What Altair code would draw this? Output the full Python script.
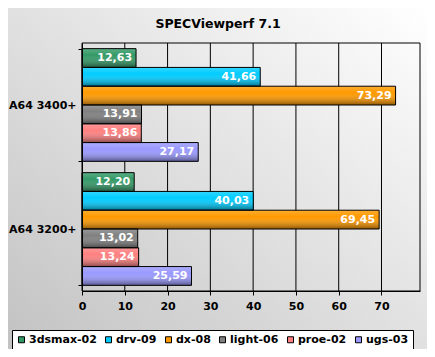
import altair as alt
import pandas as pd

categories = ["A64 3400+", "A64 3200+"]
series = ["3dsmax-02", "drv-09", "dx-08", "light-06", "proe-02", "ugs-03"]
values_3400 = [12.63, 41.66, 73.29, 13.91, 13.86, 27.17]
values_3200 = [12.20, 40.03, 69.45, 13.02, 13.24, 25.59]
colors = ["#339966", "#00ccff", "#ff9900", "#808080", "#ff8080", "#9999ff"]
x_ticks = [0, 10, 20, 30, 40, 50, 60, 70]
grid_ticks = [10, 20, 30, 40, 50, 60, 70]

rows = []
for cat, vals in zip(categories, [values_3400, values_3200]):
    for s, v in zip(series, vals):
        rows.append({"cat": cat, "series": s, "value": v,
                     "label": f"{v:.2f}".replace(".", ",")})
df = pd.DataFrame(rows)

W, H = 338, 248
PL, PT, PR, PB = 74, 35, 7, 58
FONT = "DejaVu Sans"

bg = alt.Chart(pd.DataFrame({"a": [0]})).mark_rect(
    fill=alt.Gradient(gradient="linear", x1=0, y1=1, x2=1, y2=0,
                      stops=[alt.GradientStop(offset=0, color="#c2c2c2"),
                             alt.GradientStop(offset=1, color="#ffffff")])
).encode(x=alt.value(-PL), x2=alt.value(W + PR), y=alt.value(-PT), y2=alt.value(H + PB))

grid = alt.Chart(pd.DataFrame({"t": grid_ticks})).mark_rule(color="black", strokeWidth=1).encode(
    x=alt.X("t:Q", scale=alt.Scale(domain=[0, 79], nice=False, zero=True))
)

frame = alt.Chart(pd.DataFrame({"a": [0]})).mark_rect(filled=False, stroke="black", strokeWidth=1).encode(
    x=alt.value(0), x2=alt.value(W), y=alt.value(0), y2=alt.value(H)
)

xenc = alt.X("value:Q", scale=alt.Scale(domain=[0, 79], nice=False, zero=True),
             axis=alt.Axis(values=x_ticks, title=None, tickSize=4, labelPadding=5, grid=False,
                           labelFlush=False, zindex=1))
yenc = alt.Y("cat:N", sort=categories,
             scale=alt.Scale(paddingInner=0.091, paddingOuter=0.0455),
             axis=alt.Axis(title=None, tickBand="extent", tickSize=4, labelPadding=2, zindex=1))
yoff = alt.YOffset("series:N", sort=series, scale=alt.Scale(paddingInner=0, paddingOuter=0))

bars = alt.Chart(df).mark_bar(strokeWidth=0).encode(
    x=xenc, y=yenc, yOffset=yoff,
    color=alt.Color("series:N", sort=series,
                    scale=alt.Scale(domain=series, range=colors),
                    legend=alt.Legend(title=None, orient="none", direction="horizontal",
                                      legendX=-70, legendY=287,
                                      symbolType="square", symbolSize=36,
                                      symbolStrokeColor="black", symbolStrokeWidth=1,
                                      labelFont=FONT, labelFontWeight="bold", labelFontSize=11,
                                      labelColor="black", labelOffset=2,
                                      columnPadding=6, padding=4,
                                      fillColor="white", strokeColor="black")),
)

shade = alt.Chart(df).mark_bar(
    fill=alt.Gradient(gradient="linear", x1=0, y1=0, x2=0, y2=1,
                      stops=[alt.GradientStop(offset=0, color="rgba(255,255,255,0.2)"),
                             alt.GradientStop(offset=0.35, color="rgba(255,255,255,0)"),
                             alt.GradientStop(offset=1, color="rgba(0,0,0,0.45)")]),
    stroke="black", strokeWidth=1
).encode(x=xenc, y=yenc, yOffset=yoff)

text = alt.Chart(df).mark_text(align="right", baseline="middle", dx=-4, color="white",
                               font=FONT, fontWeight="bold", fontSize=11).encode(
    x=xenc, y=yenc, yOffset=yoff, text="label:N")

chart = alt.layer(bg, grid, frame, bars, shade, text).properties(
    width=W, height=H,
    title=alt.TitleParams("SPECViewperf 7.1", font=FONT, fontWeight="bold", fontSize=12.5,
                          color="black", anchor="middle", dx=-33, offset=-32,
                          baseline="alphabetic"),
    autosize=alt.AutoSizeParams(type="none"),
    padding={"left": PL, "top": PT, "right": PR, "bottom": PB},
).configure_axis(
    labelFont=FONT, labelFontWeight="bold", labelFontSize=11, labelColor="black",
    domainColor="black", tickColor="black", domainWidth=1, tickWidth=1
).configure_view(stroke=None)

chart.save("out.html", embed_options={"renderer": "svg", "actions": False})
